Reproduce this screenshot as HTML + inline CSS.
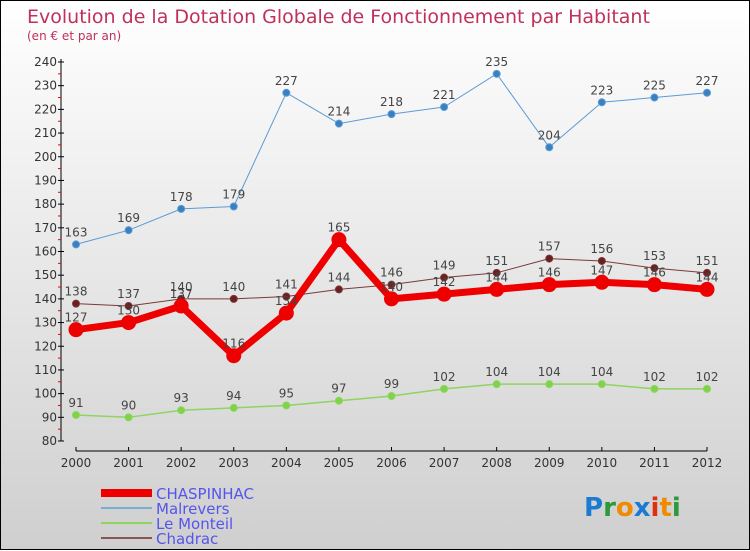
<!DOCTYPE html>
<html><head><meta charset="utf-8">
<style>
body{margin:0;width:750px;height:550px;overflow:hidden;font-family:"DejaVu Sans","Liberation Sans",sans-serif;}
#wrap{position:relative;width:748px;height:548px;border:1px solid #000;background:linear-gradient(#ffffff,#cfcfcf);}
svg{position:absolute;left:0;top:0}
</style></head><body>
<div id="wrap">
<svg id="c" width="750" height="550">
<text x="26" y="22" font-size="19" fill="#c0305a">Evolution de la Dotation Globale de Fonctionnement par Habitant</text>
<text x="26" y="39" font-size="12" fill="#c0305a">(en € et par an)</text>
</svg>
</div>
<script>
const years=[2000,2001,2002,2003,2004,2005,2006,2007,2008,2009,2010,2011,2012];
const chaspinhac=[127,130,137,116,134,165,140,142,144,146,147,146,144];
const malrevers=[163,169,178,179,227,214,218,221,235,204,223,225,227];
const monteil=[91,90,93,94,95,97,99,102,104,104,104,102,102];
const chadrac=[138,137,140,140,141,144,146,149,151,157,156,153,151];
const yTicks=[80,90,100,110,120,130,140,150,160,170,180,190,200,210,220,230,240];
const svg=document.getElementById('c');const NS='http://www.w3.org/2000/svg';
function X(i){return 75+i*(706-75)/(years.length-1);}
function Y(v){return 440-(v-80)*(440-61)/160;}
function mk(t,a,p){const e=document.createElementNS(NS,t);for(const k in a)e.setAttribute(k,a[k]);(p||svg).appendChild(e);return e;}
// axes
let ya=mk('line',{x1:60,y1:58,x2:60,y2:440,stroke:'#000','stroke-width':1});


let xa=mk('line',{x1:75,y1:450,x2:706,y2:450,stroke:'#000','stroke-width':1});


yTicks.forEach(v=>{const y=Y(v);
 mk('line',{x1:57,y1:y,x2:63,y2:y,stroke:'#000'});
 mk('line',{x1:57,y1:Y(v+5),x2:60,y2:Y(v+5),stroke:v<240?'#e00':'none'});
 const t=mk('text',{x:56,y:y+4,'font-size':12,fill:'#333','text-anchor':'end'});t.textContent=v;
 
 
});
years.forEach((yr,i)=>{const x=X(i);
 mk('line',{x1:x,y1:446,x2:x,y2:450,stroke:'#000'});
 const t=mk('text',{x:x,y:466,'font-size':12,fill:'#333','text-anchor':'middle'});t.textContent=yr;
 
 
});
function series(vals,color,dot,w,r,name){
 const g=mk('g',{});
 
 
 mk('polyline',{points:vals.map((v,i)=>X(i)+','+Y(v)).join(' '),fill:'none',stroke:color,'stroke-width':w,'stroke-linejoin':'round'},g);
 vals.forEach((v,i)=>{const c=mk('circle',{cx:X(i),cy:Y(v),r:r,fill:dot,stroke:color,'stroke-width':1},g);
  
  
  const t=mk('text',{x:X(i),y:Y(v)-8,'font-size':12,fill:'#444','text-anchor':'middle'},g);t.textContent=v;
  
  
 });
}
series(malrevers,'#5b9bd5','#3a7fc0',1,3.5,'malrevers');
series(monteil,'#8fd460','#7ed348',1.5,3.5,'le-monteil');
series(chadrac,'#7a3a3a','#6b1f1f',1,3.5,'chadrac');
series(chaspinhac,'#ee0000','#ee0000',7,7,'chaspinhac');
// legend
const leg=[['CHASPINHAC','#ee0000',8],['Malrevers','#7aaed0',2],['Le Monteil','#8fd460',2],['Chadrac','#8a5555',2]];
leg.forEach((l,i)=>{const y=492+i*15;
 const g=mk('g',{});
 
 
 mk('line',{x1:100,y1:y,x2:151,y2:y,stroke:l[1],'stroke-width':l[2]},g);
 const t=mk('text',{x:155,y:y+6,'font-size':15,fill:'#5555ee'},g);t.textContent=l[0];
});
// logo
const lg=mk('text',{x:583,y:515,'font-size':26,'font-weight':'bold'});


[['P','#1a7ad4'],['r','#2a9a3a'],['o','#f08a00'],['x','#1a7ad4'],['i','#e03010'],['t','#f08a00'],['i','#2a9a3a']].forEach(p=>{const s=mk('tspan',{fill:p[1]},lg);s.textContent=p[0];});
</script>
</body></html>
